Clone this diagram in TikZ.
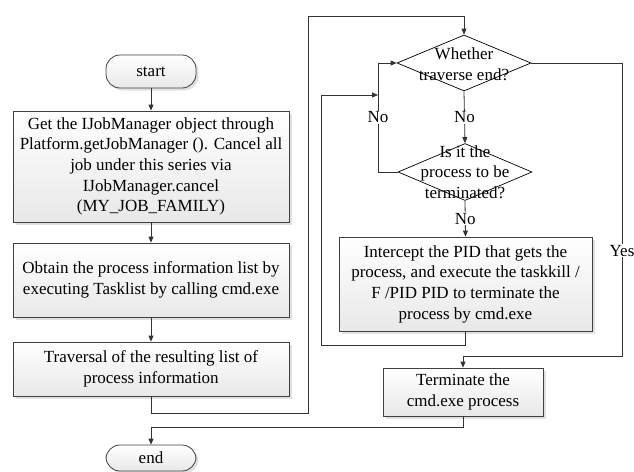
\documentclass[tikz,border=0pt]{standalone}
\usepackage{fontspec}
\setmainfont{Liberation Serif}
\usetikzlibrary{shapes.geometric,shadows,arrows.meta}
\begin{document}
\begin{tikzpicture}[x=1pt,y=-1pt,
  font=\fontsize{17}{20.7}\selectfont,
  proc/.style={rectangle,draw=black!75,line width=0.8pt,top color=white,bottom color=black!9,
    drop shadow={shadow xshift=2.5pt,shadow yshift=-2.5pt,fill=black!12,opacity=1},
    align=center,inner sep=0pt},
  term/.style={proc,rounded corners=14pt},
  dec/.style={diamond,draw=black,line width=0.7pt,fill=white,inner sep=0pt,aspect=2.4},
  dtext/.style={align=center,inner sep=0pt},
  lbl/.style={fill=white,inner sep=1pt},
  arr/.style={draw=black!80,line width=0.8pt,-{Triangle[length=6pt,width=5pt]}},
  ln/.style={draw=black!80,line width=0.8pt}]
\useasboundingbox (0,0) rectangle (634,471);
\node[term,minimum width=90pt,minimum height=33pt] (st) at (151,71.5) {start};
\node[proc,minimum width=276pt,minimum height=111pt] (b1) at (151,166.5)
  {Get the IJobManager object through\\Platform.getJobManager (). Cancel all\\job under this series via\\IJobManager.cancel\\(MY\_JOB\_FAMILY)};
\node[proc,minimum width=276pt,minimum height=74pt] (b2) at (151,280)
  {Obtain the process information list by\\executing Tasklist by calling cmd.exe};
\node[proc,minimum width=276pt,minimum height=54pt] (b3) at (151,369)
  {Traversal of the resulting list of\\process information};
\node[term,minimum width=90pt,minimum height=26pt] (en) at (151,458) {end};
\node[dec,minimum width=134pt,minimum height=56pt] (d1) at (464,63) {};
\node[dtext] (d1t) at (464,64) {Whether\\traverse end?};
\node[dec,minimum width=134pt,minimum height=57pt] (d2) at (465,172) {};
\node[dtext] (d2t) at (465,172) {Is it the\\process to be\\terminated?};
\node[proc,minimum width=253pt,minimum height=94pt] (b4) at (465.5,284)
  {Intercept the PID that gets the\\process, and execute the taskkill /\\F /PID PID to terminate the\\process by cmd.exe};
\node[proc,minimum width=160pt,minimum height=48pt] (b5) at (463,392)
  {Terminate the\\cmd.exe process};
\coordinate (c1) at (308,413);
\coordinate (c2) at (308,16);
\coordinate (c3) at (378,172);
\coordinate (c5) at (321,345);
\coordinate (c6) at (378,95);
\coordinate (c7) at (622,63);
\coordinate (c8) at (622,356);
\coordinate (c9) at (151,427);
\draw[arr] (st.south) -- (b1.north);
\draw[arr] (b1.south) -- (b2.north);
\draw[arr] (b2.south) -- (b3.north);
\draw[arr] (b3.south) |- (c1) -- (c2) -| (d1.north);
\draw[arr] (d1.south) -- node[lbl] (n1) {No} (d2.north);
\draw[arr] (d2.south) -- node[lbl] (n2) {No} (b4.north);
\draw[arr] (d2.west) -- (c3) |- node[lbl,pos=0.25] (n3) {No} (d1.west);
\draw[arr] (b4.south) |- (c5) |- (c6);
\draw[arr] (d1.east) -- (c7) -- node[lbl,pos=0.64] (n4) {Yes} (c8) -| (b5.north);
\draw[arr] (b5.south) |- (c9) -- (en.north);
\end{tikzpicture}
\end{document}
